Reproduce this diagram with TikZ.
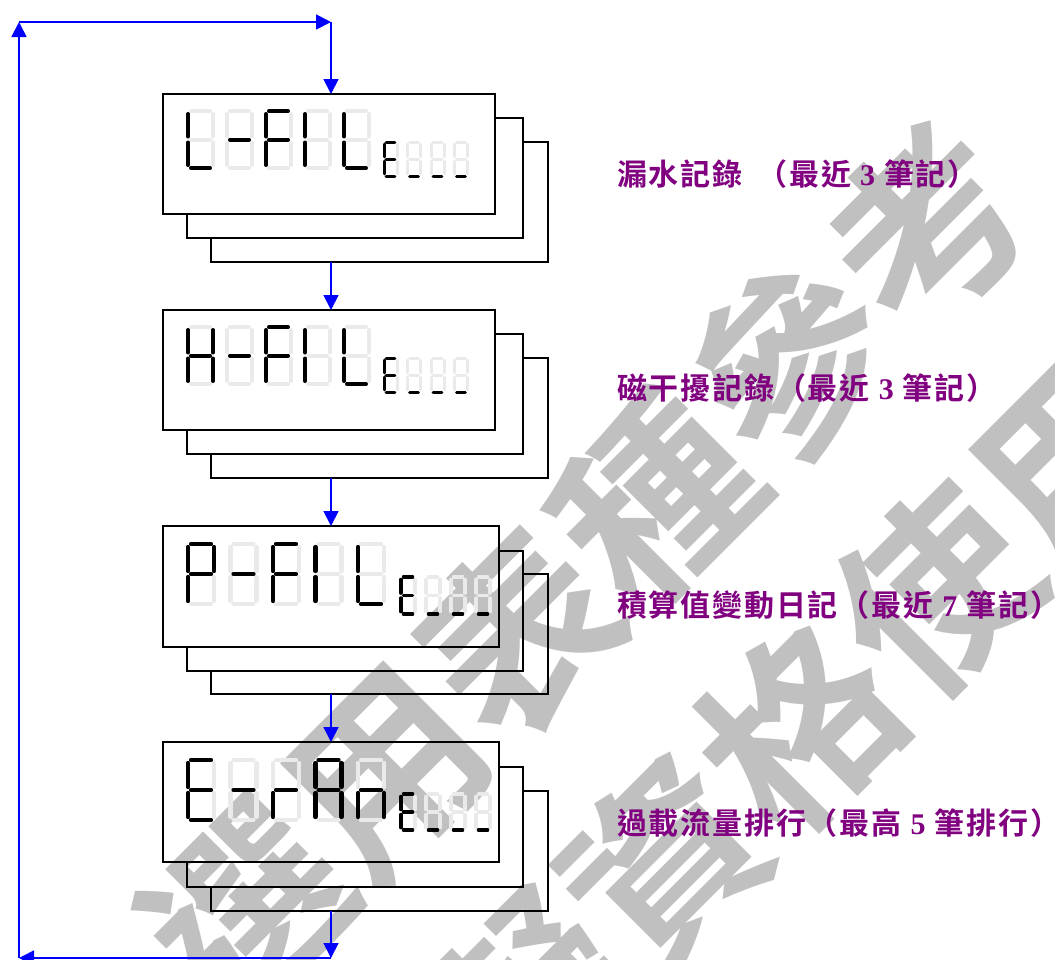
\documentclass[tikz,border=0pt]{standalone}
\usepackage{fontspec}
\setmainfont{Liberation Serif}
\newfontfamily\cjk{Noto Sans CJK TC}[BoldFont={Noto Sans CJK TC Bold}]
\newfontfamily\cjklbl{Noto Sans CJK TC}[BoldFont={Noto Sans CJK TC Bold},LetterSpace=6]
\usetikzlibrary{arrows.meta,calc}
\definecolor{flowblue}{RGB}{0,0,255}
\definecolor{lblpurple}{RGB}{128,0,128}
\definecolor{wmgray}{RGB}{192,192,192}
\definecolor{segoff}{RGB}{234,234,234}

\newcommand\SegA{(\dgX+\dgT,\dgY) -- (\dgX+\dgW-\dgT,\dgY)}
\newcommand\SegB{(\dgX+\dgW,\dgY+\dgT) -- (\dgX+\dgW,\dgY+\dgH/2-\dgT)}
\newcommand\SegC{(\dgX+\dgW,\dgY+\dgH/2+\dgT) -- (\dgX+\dgW,\dgY+\dgH-\dgT)}
\newcommand\SegD{(\dgX+\dgT,\dgY+\dgH) -- (\dgX+\dgW-\dgT,\dgY+\dgH)}
\newcommand\SegE{(\dgX,\dgY+\dgH/2+\dgT) -- (\dgX,\dgY+\dgH-\dgT)}
\newcommand\SegF{(\dgX,\dgY+\dgT) -- (\dgX,\dgY+\dgH/2-\dgT)}
\newcommand\SegG{(\dgX+\dgT,\dgY+\dgH/2) -- (\dgX+\dgW-\dgT,\dgY+\dgH/2)}

% x, y, w, h, gap, line width, lit segments
\newcommand\sevenseg[7]{%
  \edef\dgX{#1}\edef\dgY{#2}\edef\dgW{#3}\edef\dgH{#4}\edef\dgT{#5}\edef\dgLit{#7}%
  \foreach \s in {A,B,C,D,E,F,G}{%
    \expandafter\let\expandafter\curseg\csname Seg\s\endcsname
    \draw[segoff,line width=#6,line cap=round] \curseg;}%
  \foreach \s in \dgLit{%
    \expandafter\let\expandafter\curseg\csname Seg\s\endcsname
    \draw[black,line width=#6,line cap=round] \curseg;}%
}
% x0, pitch, y, w, h, gap, lw, list of lit sets
\newcommand\segrow[8]{%
  \foreach \L [count=\i from 0] in {#8}{%
    \pgfmathsetmacro\xx{#1+\i*#2}%
    \sevenseg{\xx}{#3}{#4}{#5}{#6}{#7}{\L}}%
}
\newcommand\lbldigit[1]{\hspace{0.3em}{\rmfamily\bfseries #1}\hspace{0.3em}}

\begin{document}
\begin{tikzpicture}[x=1pt,y=-1pt,
  panel/.style={rectangle,draw=none,inner sep=0pt,outer sep=0pt,anchor=north west},
  frontpanel/.style={panel,draw=black,line width=1.3pt},
  boxline/.style={draw=black,line width=1.3pt},
  flow/.style={draw=flowblue,line width=1.8pt,-{Triangle[length=15pt,width=15pt]}},
  lbl/.style={anchor=west,inner sep=0pt,text=lblpurple,font=\cjklbl\bfseries\fontsize{30}{30}\selectfont},
  wm/.style={inner sep=0pt,text=wmgray,rotate=45,font=\cjk\bfseries\fontsize{192}{192}\selectfont}]
\useasboundingbox (0,0) rectangle (1055,959);
\clip (0,0) rectangle (1055,959);

% watermark
\node[wm] (wm1) at (587,566) {選用表種參考};
\node[wm] (wm2) at (800,727) {擬資格使用};

% panels
\node[frontpanel,minimum width=332pt,minimum height=120pt] (f1) at (163,94) {};
\node[panel,minimum width=336pt,minimum height=120pt] (m1) at (187,118) {};
\node[panel,minimum width=337pt,minimum height=120pt] (b1) at (211,142) {};
\node[frontpanel,minimum width=332pt,minimum height=120pt] (f2) at (163,310) {};
\node[panel,minimum width=336pt,minimum height=120pt] (m2) at (187,334) {};
\node[panel,minimum width=337pt,minimum height=120pt] (b2) at (211,358) {};
\node[frontpanel,minimum width=336pt,minimum height=121pt] (f3) at (163,526) {};
\node[panel,minimum width=336pt,minimum height=120pt] (m3) at (187,551) {};
\node[panel,minimum width=337pt,minimum height=120pt] (b3) at (211,574) {};
\node[frontpanel,minimum width=336pt,minimum height=120pt] (f4) at (163,742) {};
\node[panel,minimum width=336pt,minimum height=120pt] (m4) at (187,767) {};
\node[panel,minimum width=337pt,minimum height=120pt] (b4) at (211,791) {};

\foreach \g in {1,2,3,4}{
  \draw[boxline] (f\g.east |- m\g.north) -- (m\g.north east) -- (m\g.south east)
     -- (m\g.south west) -- (m\g.west |- f\g.south);
  \draw[boxline] (m\g.east |- b\g.north) -- (b\g.north east) -- (b\g.south east)
     -- (b\g.south west) -- (b\g.west |- m\g.south);
}

% seven-segment displays
\segrow{188}{39}{111}{25}{57}{3}{4pt}{{D,E,F},{G},{A,E,F,G},{E,F},{D,E,F}}
\segrow{384}{23.5}{142}{13}{34}{2.2}{3pt}{{A,D,E,F,G},{D},{D},{D}}
\segrow{188}{39}{327}{25}{57}{3}{4pt}{{B,C,E,F,G},{G},{A,E,F,G},{E,F},{D,E,F}}
\segrow{384}{23.5}{358}{13}{34}{2.2}{3pt}{{A,D,E,F,G},{D},{D},{D}}
\segrow{188}{42.5}{544}{26}{60}{3}{4.2pt}{{A,B,E,F,G},{G},{A,E,F,G},{E,F},{D,E,F}}
\segrow{401}{25}{577}{14}{37}{2.3}{3.1pt}{{A,D,E,F,G},{D},{D},{D}}
\segrow{188}{42.5}{760}{26}{60}{3}{4.2pt}{{A,D,E,F,G},{G},{E,G},{A,B,C,E,F,G},{C,E,G}}
\segrow{401}{25}{794}{14}{36}{2.3}{3.1pt}{{A,D,E,F,G},{D},{D},{D}}

% labels
\node[lbl] (l1) at (617,174) {漏水記錄\hspace{0.5em}（最近\lbldigit{3}筆記）};
\node[lbl] (l2) at (617,388) {磁干擾記錄（最近\lbldigit{3}筆記）};
\node[lbl] (l3) at (617,605) {積算值變動日記（最近\lbldigit{7}筆記）};
\node[lbl] (l4) at (617,823) {過載流量排行（最高\lbldigit{5}筆排行）};

% connectors
\coordinate (loopBR) at (331,958);
\coordinate (loopBL) at (19,958);
\coordinate (loopTL) at (19,22);
\coordinate (loopTR) at (331,22);
\draw[flow] (loopTR |- b1.south) -- (loopTR |- f2.north);
\draw[flow] (loopTR |- b2.south) -- (loopTR |- f3.north);
\draw[flow] (loopTR |- b3.south) -- (loopTR |- f4.north);
\draw[flow] (loopTR |- b4.south) -- (loopBR);
\draw[flow] (loopBR) -- (loopBL);
\draw[flow] (loopBL) -- (loopTL);
\draw[flow] (loopTL) -- (loopTR);
\draw[flow] (loopTR) -- (loopTR |- f1.north);
\end{tikzpicture}
\end{document}
